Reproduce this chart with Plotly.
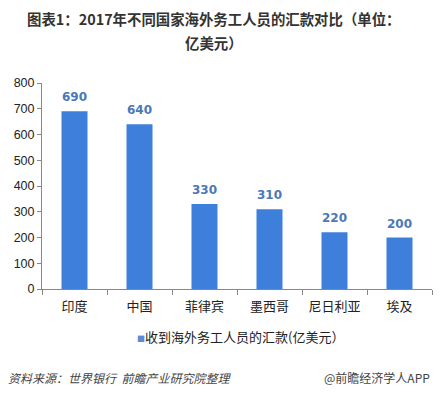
import plotly.graph_objects as go

categories = ["印度", "中国", "菲律宾", "墨西哥", "尼日利亚", "埃及"]
values = [690, 640, 330, 310, 220, 200]
series_name = "收到海外务工人员的汇款(亿美元）"
title_line1 = "图表1：2017年不同国家海外务工人员的汇款对比（单位："
title_line2 = "亿美元）"
source_text = "资料来源：世界银行  前瞻产业研究院整理"
brand_text = "@前瞻经济学人APP"
y_ticks = [0, 100, 200, 300, 400, 500, 600, 700, 800]

FONT = "Microsoft YaHei, Noto Sans CJK SC, sans-serif"

fig = go.Figure()
fig.add_trace(go.Bar(
    x=categories, y=values, name=series_name,
    marker=dict(color="#3f7fdc", line=dict(width=0)),
    width=0.4,
    showlegend=False,
    hoverinfo="x+y",
))

label_annotations = [
    dict(x=c, y=v, xref="x", yref="y", text="<b>%d</b>" % v, showarrow=False,
         yanchor="middle", yshift=14,
         font=dict(color="#4a78b8", size=12, family="DejaVu Sans, Verdana, sans-serif"))
    for c, v in zip(categories, values)
]

fig.update_layout(
    width=439, height=396,
    margin=dict(l=42, r=7, t=83, b=107),
    paper_bgcolor="white", plot_bgcolor="white",
    font=dict(family=FONT, color="#222", size=12),
    bargap=0.6,
    annotations=label_annotations + [
        dict(text="<b>" + title_line1 + "</b>", xref="paper", yref="paper", x=0.44, y=1.3155,
             xanchor="center", yanchor="middle", showarrow=False,
             font=dict(size=14.4, color="#333", family=FONT)),
        dict(text="<b>" + title_line2 + "</b>", xref="paper", yref="paper", x=0.44, y=1.199,
             xanchor="center", yanchor="middle", showarrow=False,
             font=dict(size=14.4, color="#333", family=FONT)),
        dict(text="<span style='color:#5b8bd0;font-size:8px'>■</span>" + series_name,
             xref="paper", yref="paper",
             x=0.5077, y=-0.233, xanchor="center", yanchor="middle", showarrow=False,
             font=dict(size=13, color="#222", family=FONT)),
        dict(text="<i>" + source_text + "</i>", xref="paper", yref="paper", x=-0.0923, y=-0.432,
             xanchor="left", yanchor="middle", showarrow=False,
             font=dict(size=12, color="#444", family=FONT)),
        dict(text=brand_text, xref="paper", yref="paper", x=1.0, y=-0.432,
             xanchor="right", yanchor="middle", showarrow=False,
             font=dict(size=12, color="#444", family=FONT)),
    ],
)
fig.update_xaxes(type="category", range=[-0.5, 5.5], showline=True, linecolor="#888", linewidth=1,
                 ticks="outside", tickson="boundaries", ticklen=5, tickcolor="#888",
                 ticklabelstandoff=5,
                 showgrid=False, tickfont=dict(size=13, color="#222"))
fig.update_yaxes(range=[0, 800], tickvals=y_ticks, showline=True, linecolor="#888", linewidth=1,
                 ticks="outside", ticklen=4, tickcolor="#888", showgrid=False, zeroline=False,
                 tickfont=dict(size=12.5, color="#222", family="Liberation Sans, Arial, sans-serif"))

fig.write_html("out.html", config={"displayModeBar": False},
               post_script="document.body.style.margin='0';")
